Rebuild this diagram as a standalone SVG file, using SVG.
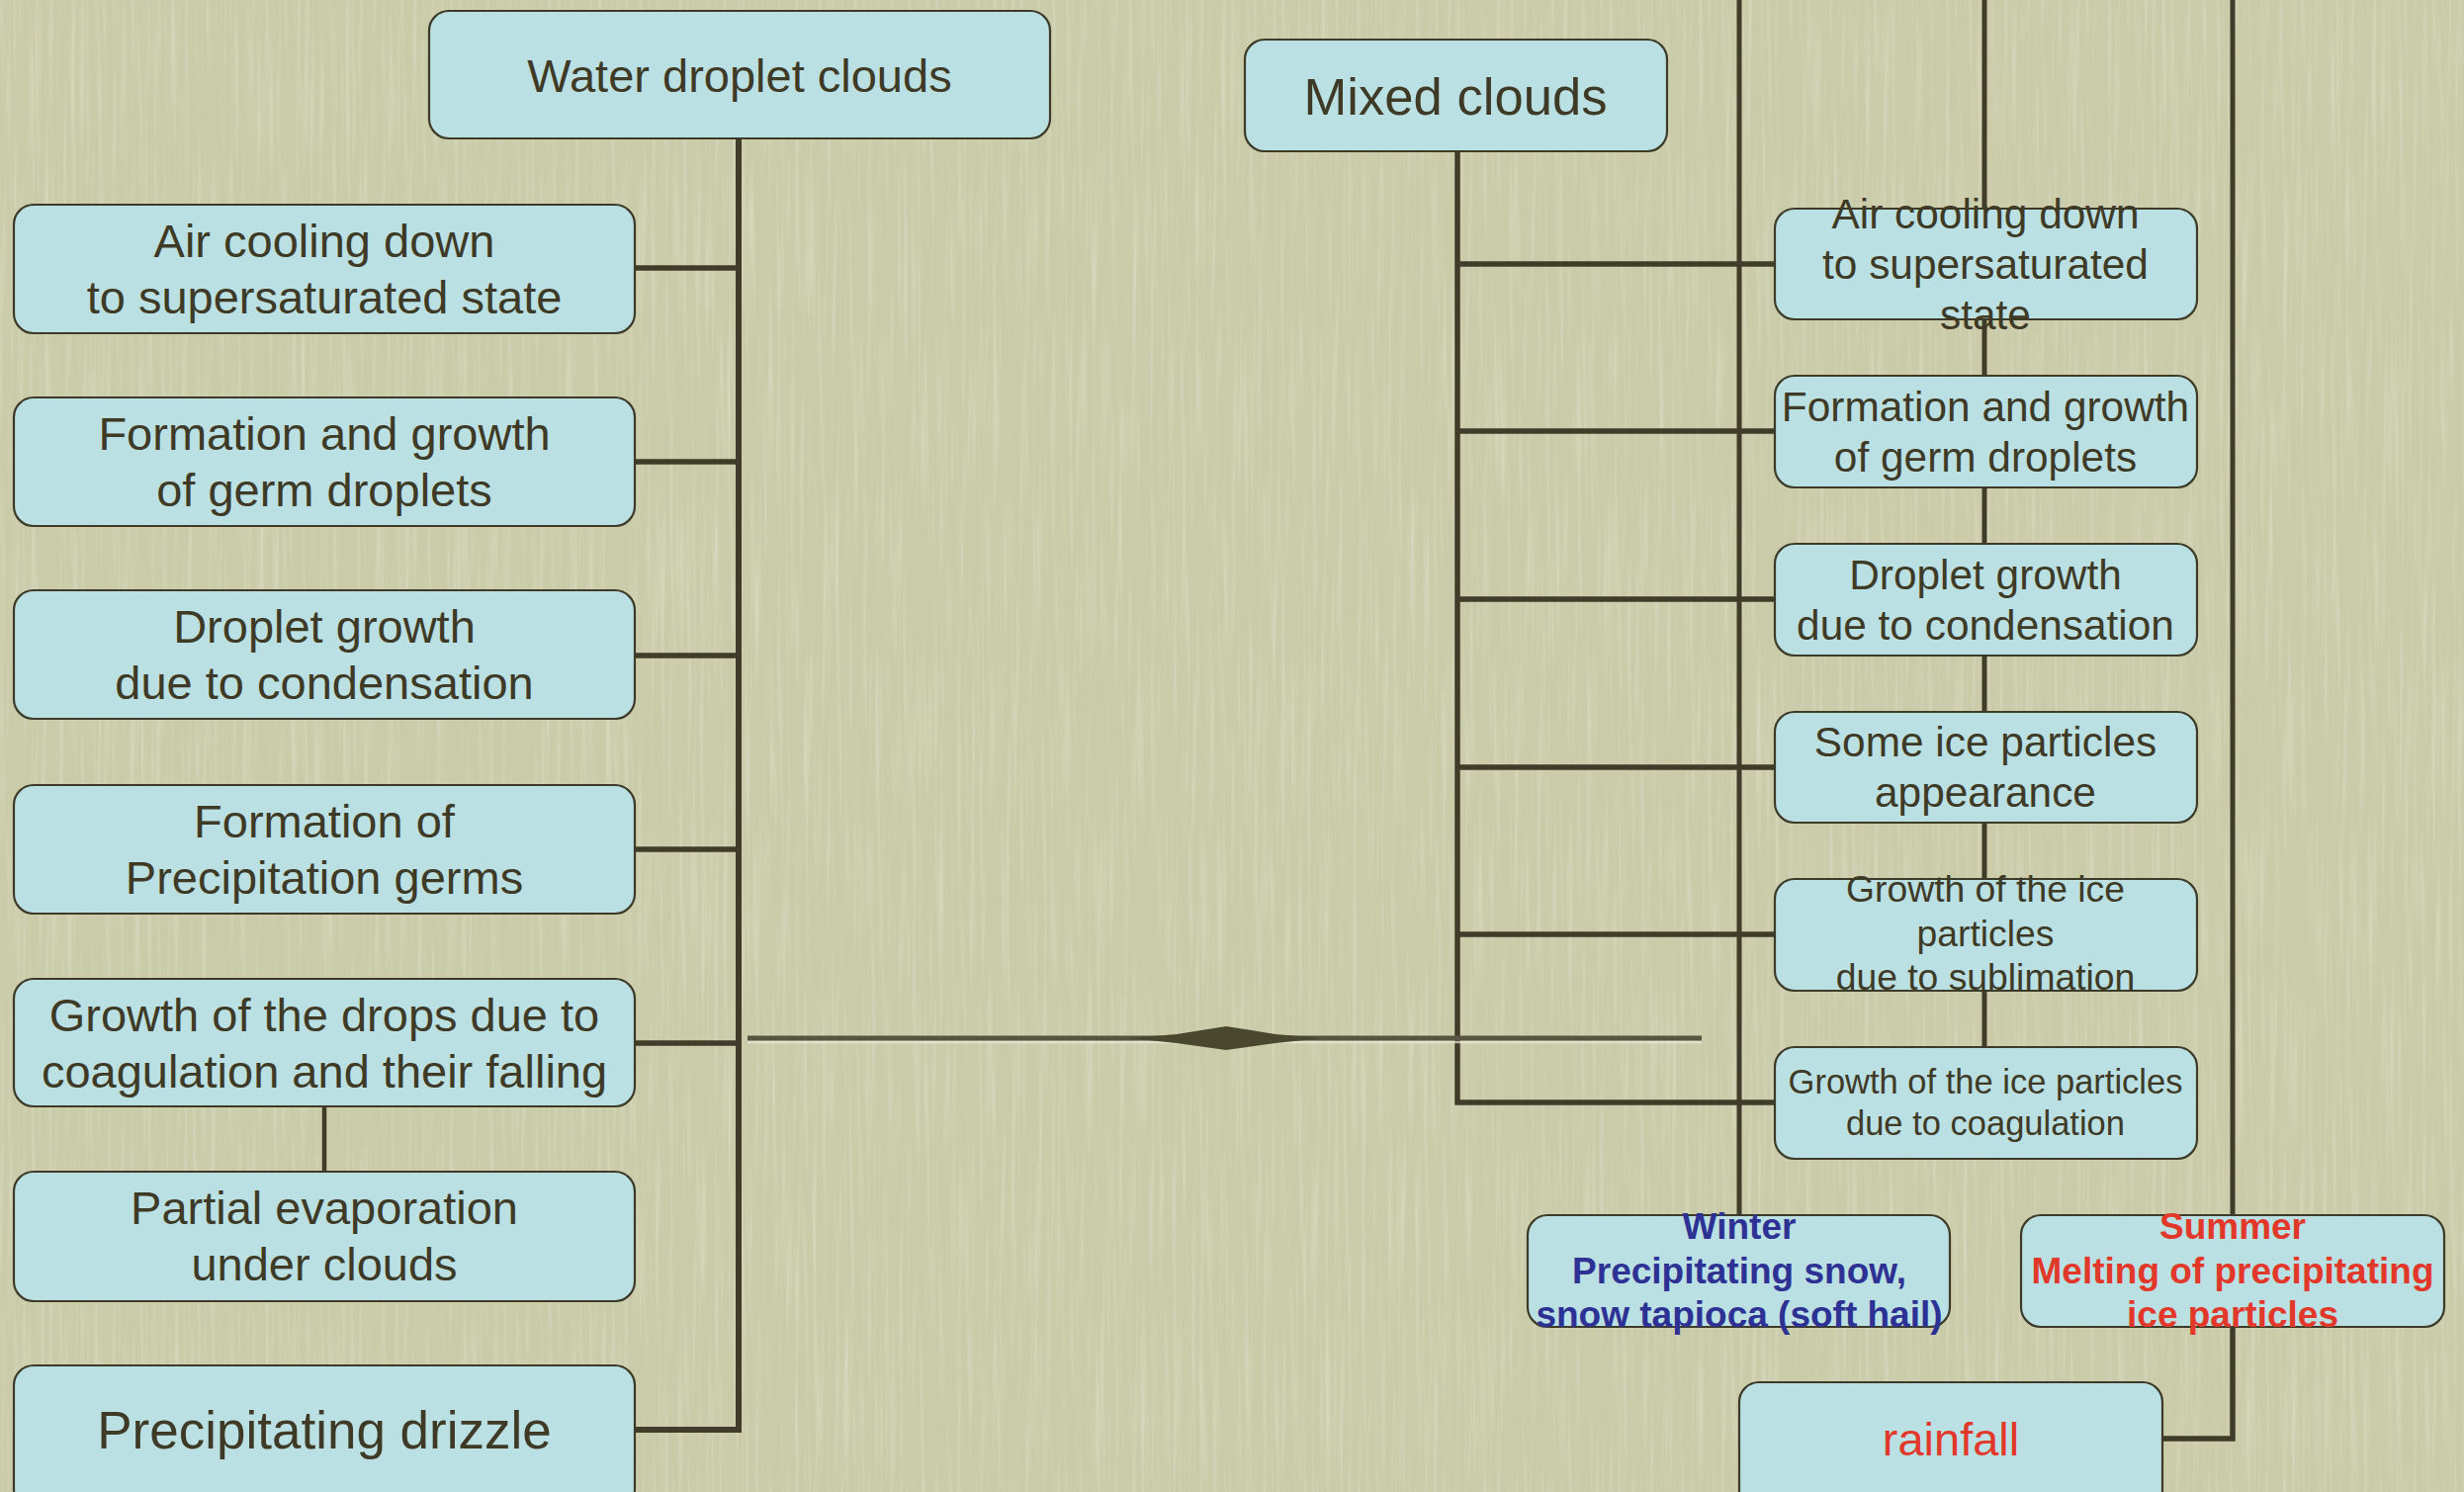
<svg xmlns="http://www.w3.org/2000/svg" width="2492" height="1509" viewBox="0 0 2492 1509">
<style>
.box{fill:#bae0e3;stroke:#3d3b28;stroke-width:2.2}
.t{font-family:"Liberation Sans",Arial,sans-serif;fill:#3e3a26;text-anchor:middle}
.l47{font-size:47px}
.l42{font-size:42.4px}
.b37{font-size:37px;font-weight:bold}
.blue{fill:#2e3194}
.red{fill:#e2382a}
.c{fill:none;stroke:#3f3d29;stroke-width:5.5}
.cv{fill:none;stroke:#3f3d29;stroke-width:5}
</style>
<defs>
<filter id="grainL" x="0" y="0" width="100%" height="100%">
<feTurbulence type="fractalNoise" baseFrequency="0.22 0.006" numOctaves="3" seed="7"/>
<feColorMatrix type="matrix" values="0 0 0 0 0.97  0 0 0 0 0.97  0 0 0 0 0.9  1.8 0 0 0 -0.85"/>
</filter>
<filter id="grainD" x="0" y="0" width="100%" height="100%">
<feTurbulence type="fractalNoise" baseFrequency="0.3 0.008" numOctaves="2" seed="21"/>
<feColorMatrix type="matrix" values="0 0 0 0 0.6  0 0 0 0 0.6  0 0 0 0 0.45  -1.8 0 0 0 0.85"/>
</filter>
</defs>
<rect x="0" y="0" width="2492" height="1509" fill="#cacba9"/>
<rect x="0" y="0" width="2492" height="1509" filter="url(#grainL)" opacity="0.35"/>
<rect x="0" y="0" width="2492" height="1509" filter="url(#grainD)" opacity="0.25"/>

<g id="connectors">
<path class="c" d="M747,140 V1446 H642" style="stroke-width:6"/>
<path class="c" d="M642,271 H747 M642,467 H747 M642,663 H747 M642,859 H747 M642,1055 H747"/>
<path class="c" d="M328,1119 V1185" style="stroke-width:4.5"/>
<path class="c" d="M1474,153 V1115 H1795"/>
<path class="c" d="M1474,267 H1795 M1474,436 H1795 M1474,606 H1795 M1474,776 H1795 M1474,945 H1795"/>
<path class="cv" d="M1759,0 V1229 M2007,0 V1059 M2258,0 V1229"/>
<path class="c" d="M2258,1342 V1455 H2187"/>
<g id="spindle">
<path d="M756,1054 H1721" stroke="#ecebdc" stroke-width="2.5" opacity="0.7"/>
<path d="M756,1050 H1721" stroke="#56553f" stroke-width="5"/>
<polygon points="1142,1050 1190,1046 1240,1038 1290,1046 1338,1050 1290,1055 1240,1062 1190,1055" fill="#49472e"/>
</g>
</g>

<g id="n-water"><rect class="box" x="434" y="11" width="628" height="129" rx="20"/><text class="t l47" x="748" y="93">Water droplet clouds</text></g>
<g id="n-l1"><rect class="box" x="14" y="207" width="628" height="130" rx="20"/><text class="t l47" x="328" y="260">Air cooling down</text><text class="t l47" x="328" y="317">to supersaturated state</text></g>
<g id="n-l2"><rect class="box" x="14" y="402" width="628" height="130" rx="20"/><text class="t l47" x="328" y="455">Formation and growth</text><text class="t l47" x="328" y="512">of germ droplets</text></g>
<g id="n-l3"><rect class="box" x="14" y="597" width="628" height="130" rx="20"/><text class="t l47" x="328" y="650">Droplet growth</text><text class="t l47" x="328" y="707">due to condensation</text></g>
<g id="n-l4"><rect class="box" x="14" y="794" width="628" height="130" rx="20"/><text class="t l47" x="328" y="847">Formation of</text><text class="t l47" x="328" y="904">Precipitation germs</text></g>
<g id="n-l5"><rect class="box" x="14" y="990" width="628" height="129" rx="20"/><text class="t l47" x="328" y="1043">Growth of the drops due to</text><text class="t l47" x="328" y="1100">coagulation and their falling</text></g>
<g id="n-l6"><rect class="box" x="14" y="1185" width="628" height="131" rx="20"/><text class="t l47" x="328" y="1238">Partial evaporation</text><text class="t l47" x="328" y="1295">under clouds</text></g>
<g id="n-l7"><rect class="box" x="14" y="1381" width="628" height="145" rx="20"/><text class="t" x="328" y="1465" style="font-size:53px">Precipitating drizzle</text></g>

<g id="n-mixed"><rect class="box" x="1259" y="40" width="427" height="113" rx="20"/><text class="t" x="1472" y="116" style="font-size:52.6px">Mixed clouds</text></g>
<g id="n-r1"><rect class="box" x="1795" y="211" width="427" height="112" rx="20"/><text class="t l42" x="2008" y="231">Air cooling down</text><text class="t l42" x="2008" y="282">to supersaturated</text><text class="t l42" x="2008" y="333">state</text></g>
<g id="n-r2"><rect class="box" x="1795" y="380" width="427" height="113" rx="20"/><text class="t l42" x="2008" y="426">Formation and growth</text><text class="t l42" x="2008" y="477">of germ droplets</text></g>
<g id="n-r3"><rect class="box" x="1795" y="550" width="427" height="113" rx="20"/><text class="t l42" x="2008" y="596">Droplet growth</text><text class="t l42" x="2008" y="647">due to condensation</text></g>
<g id="n-r4"><rect class="box" x="1795" y="720" width="427" height="112" rx="20"/><text class="t l42" x="2008" y="765">Some ice particles</text><text class="t l42" x="2008" y="816">appearance</text></g>
<g id="n-r5"><rect class="box" x="1795" y="889" width="427" height="113" rx="20"/><text class="t" x="2008" y="912" style="font-size:37.3px">Growth of the ice</text><text class="t" x="2008" y="957" style="font-size:37.3px">particles</text><text class="t" x="2008" y="1001" style="font-size:37.3px">due to sublimation</text></g>
<g id="n-r6"><rect class="box" x="1795" y="1059" width="427" height="113" rx="20"/><text class="t" x="2008" y="1106" style="font-size:34.5px">Growth of the ice particles</text><text class="t" x="2008" y="1148" style="font-size:34.5px">due to coagulation</text></g>
<g id="n-winter"><rect class="box" x="1545" y="1229" width="427" height="113" rx="20"/><text class="t b37 blue" x="1759" y="1253">Winter</text><text class="t b37 blue" x="1759" y="1298">Precipitating snow,</text><text class="t b37 blue" x="1759" y="1342">snow tapioca (soft hail)</text></g>
<g id="n-summer"><rect class="box" x="2044" y="1229" width="428" height="113" rx="20"/><text class="t b37 red" x="2258" y="1253">Summer</text><text class="t b37 red" x="2258" y="1298">Melting of precipitating</text><text class="t b37 red" x="2258" y="1342">ice particles</text></g>
<g id="n-rain"><rect class="box" x="1759" y="1398" width="428" height="130" rx="20"/><text class="t l47 red" x="1973" y="1472">rainfall</text></g>
</svg>
